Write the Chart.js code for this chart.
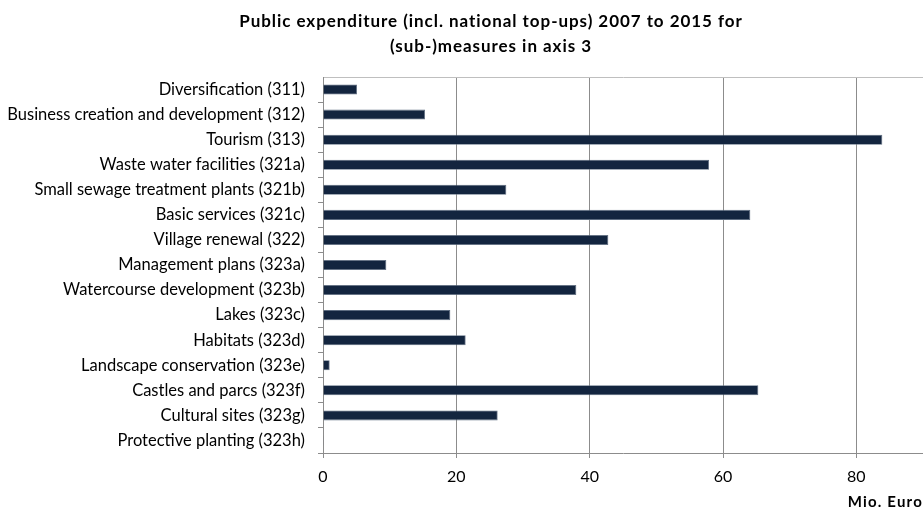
<!DOCTYPE html>
<html>
<head>
<meta charset="utf-8">
<script src="https://cdn.jsdelivr.net/npm/chart.js@4"></script>
<style>
  html, body { margin: 0; padding: 0; background: #fff; }
  #wrap { width: 923px; height: 508px; position: relative; }
</style>
</head>
<body>
<div id="wrap"><canvas id="c"></canvas></div>
<script>
const categories = [
  "Diversification (311)",
  "Business creation and development (312)",
  "Tourism (313)",
  "Waste water facilities (321a)",
  "Small sewage treatment plants (321b)",
  "Basic services (321c)",
  "Village renewal (322)",
  "Management plans (323a)",
  "Watercourse development (323b)",
  "Lakes (323c)",
  "Habitats (323d)",
  "Landscape conservation (323e)",
  "Castles and parcs (323f)",
  "Cultural sites (323g)",
  "Protective planting (323h)"
];
const expenditure = [5.1, 15.3, 83.9, 57.9, 27.5, 64.1, 42.8, 9.5, 38.0, 19.1, 21.4, 1.0, 65.3, 26.2, 0.05];
const xTicks = [0, 20, 40, 60, 80];
const titleLines = ["Public expenditure (incl. national top-ups) 2007 to 2015 for", "(sub-)measures in axis 3"];
const axisUnit = "Mio. Euro";

const FONT = "Lato, 'Open Sans', sans-serif";

const extraText = {
  id: 'extraText',
  afterDraw(chart) {
    const ctx = chart.ctx;
    ctx.save();
    ctx.fillStyle = '#000';
    ctx.font = "bold 17px " + FONT;
    ctx.letterSpacing = '0.95px';
    ctx.textAlign = 'center';
    ctx.textBaseline = 'alphabetic';
    ctx.fillText(titleLines[0], 491, 27);
    ctx.fillText(titleLines[1], 491, 51.5);
    ctx.font = "bold 15px " + FONT;
    ctx.letterSpacing = '1.2px';
    ctx.textAlign = 'right';
    ctx.textBaseline = 'middle';
    ctx.fillText(axisUnit, 923, 502);
    ctx.restore();
  }
};

new Chart(document.getElementById('c'), {
  type: 'bar',
  data: {
    labels: categories,
    datasets: [{
      data: expenditure,
      backgroundColor: '#13253f',
      borderColor: '#5d6c80',
      borderWidth: 0.8,
      barPercentage: 0.8,
      categoryPercentage: 0.5
    }]
  },
  options: {
    indexAxis: 'y',
    responsive: true,
    maintainAspectRatio: false,
    animation: false,
    layout: { padding: { top: 77, left: 8, right: 0, bottom: 0 } },
    plugins: {
      legend: { display: false },
      title: { display: false },
      tooltip: { enabled: false }
    },
    scales: {
      x: {
        min: 0,
        max: 90,
        afterBuildTicks(scale) {
          scale.ticks = xTicks.map(v => ({ value: v }));
        },
        afterFit(scale) { scale.height = 55; },
        grid: {
          color: '#8c8c8c',
          lineWidth: 1,
          drawTicks: true,
          tickLength: 5,
          tickColor: '#8c8c8c'
        },
        border: { color: '#8c8c8c', width: 1 },
        ticks: {
          color: '#000',
          font: { family: FONT, size: 16 },
          padding: 9,
          maxRotation: 0
        }
      },
      y: {
        afterFit(scale) { scale.width = 315; },
        grid: {
          offset: true,
          drawOnChartArea: true,
          color: (ctx) => ctx.index === 0 ? '#bfbfbf' : 'rgba(0,0,0,0)',
          tickColor: (ctx) => ctx.index === 0 ? 'rgba(0,0,0,0)' : '#8c8c8c',
          tickLength: 5,
          lineWidth: 1
        },
        border: { color: '#8c8c8c', width: 1 },
        ticks: {
          color: '#000',
          font: { family: FONT, size: 16.5 },
          padding: 13,
          autoSkip: false
        }
      }
    }
  },
  plugins: [extraText]
});
</script>
</body>
</html>
